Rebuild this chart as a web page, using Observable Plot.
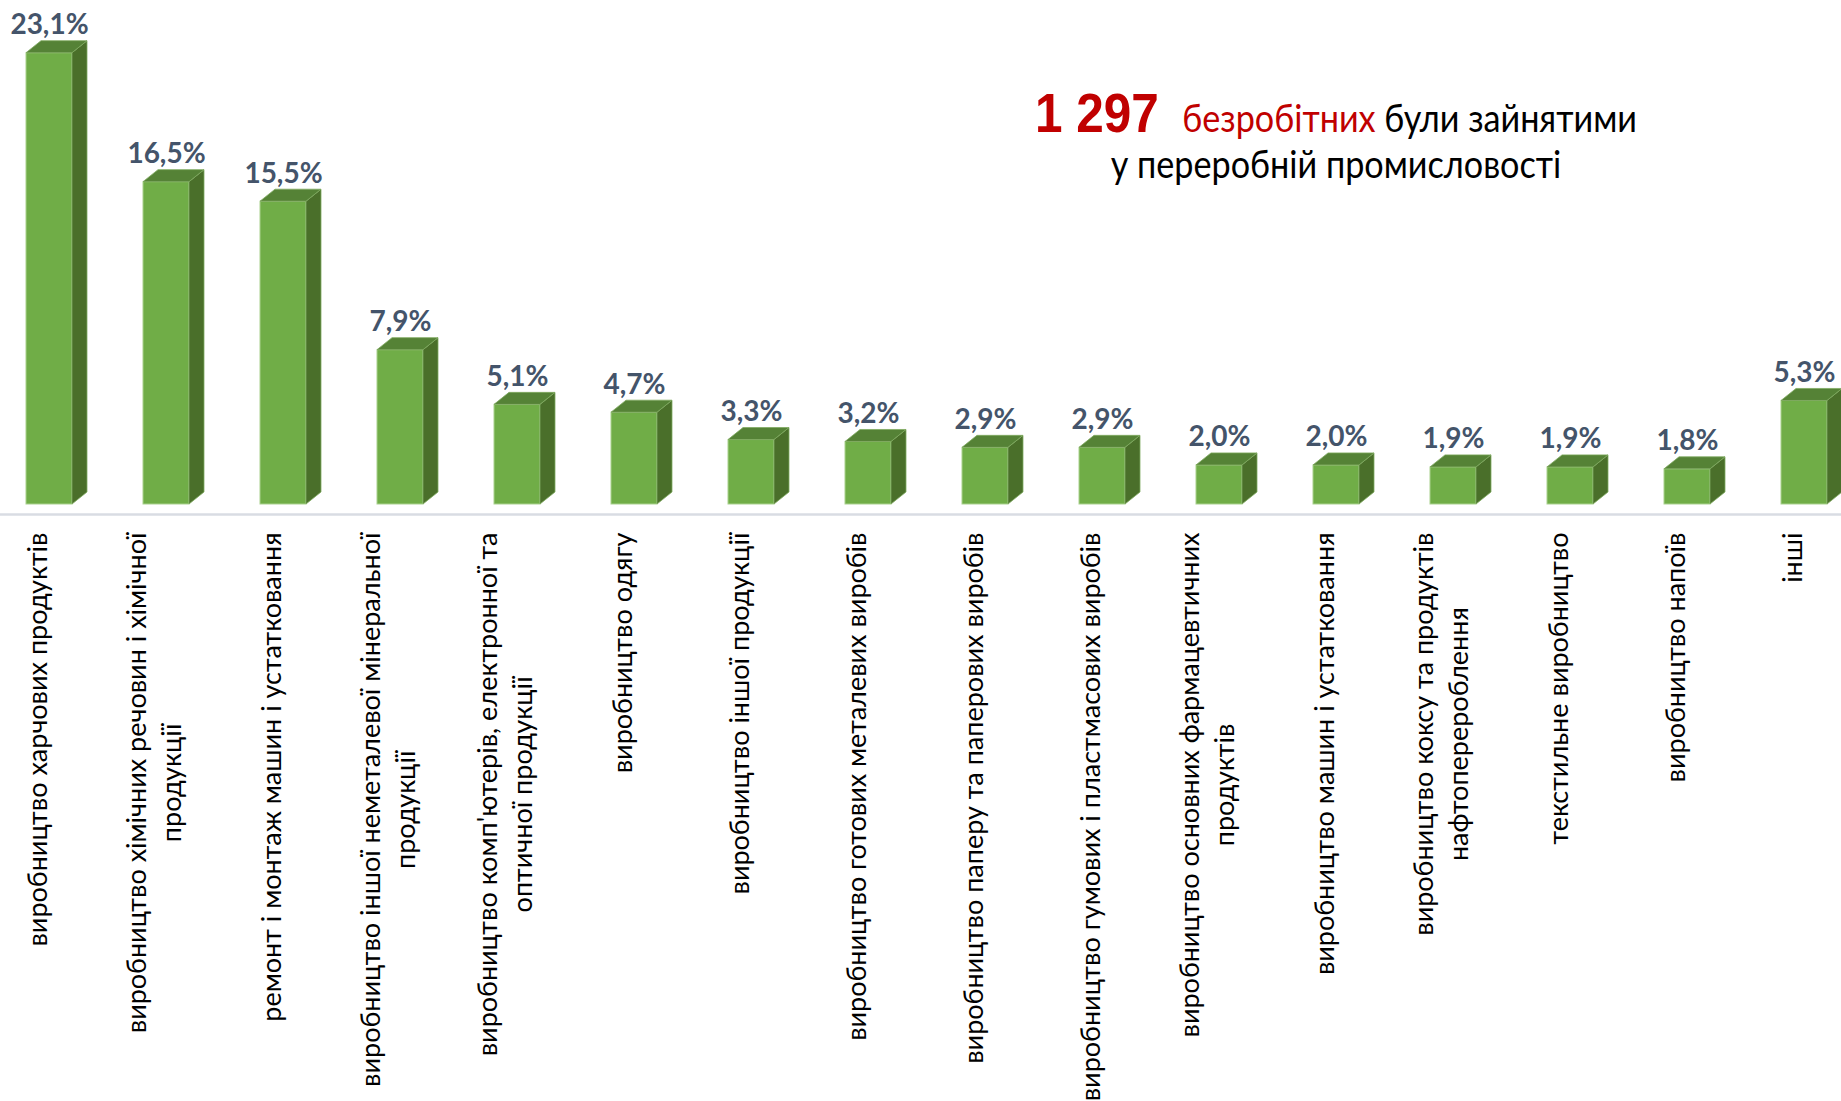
<!DOCTYPE html>
<html>
<head>
<meta charset="utf-8">
<script src="https://cdn.jsdelivr.net/npm/d3@7"></script>
<script src="https://cdn.jsdelivr.net/npm/@observablehq/plot@0.6"></script>
<style>
  html, body { margin: 0; padding: 0; background: #fff; overflow: hidden; }
  #chart svg { display: block; }
</style>
</head>
<body>
<div id="chart"></div>
<script>
// ---- data ----
const categories = [
  "виробництво харчових продуктів",
  "виробництво хімічних речовин і хімічної\nпродукції",
  "ремонт і монтаж машин і устатковання",
  "виробництво іншої неметалевої мінеральної\nпродукції",
  "виробництво комп'ютерів, електронної та\nоптичної продукції",
  "виробництво одягу",
  "виробництво іншої продукції",
  "виробництво готових металевих виробів",
  "виробництво паперу та паперових виробів",
  "виробництво гумових і пластмасових виробів",
  "виробництво основних фармацевтичних\nпродуктів",
  "виробництво машин і устатковання",
  "виробництво коксу та продуктів\nнафтоперероблення",
  "текстильне виробництво",
  "виробництво напоїв",
  "інші"
];
const shares = [23.1, 16.5, 15.5, 7.9, 5.1, 4.7, 3.3, 3.2, 2.9, 2.9, 2.0, 2.0, 1.9, 1.9, 1.8, 5.3];
const totalCount = "1 297";
const noteRed = "безробітних";
const noteBlack = " були зайнятими";
const noteLine2 = "у переробній промисловості";

const rows = categories.map((c, i) => ({cat: c, value: shares[i]}));

// ---- style ----
const W = 1841, H = 1101;
const labelFont = "Lato, 'Open Sans', sans-serif";
const labelSize = 27;
const depthX = 15, depthY = 12;

// measure category label lines to top-align longest line, center the rest
const cv = document.createElement("canvas").getContext("2d");
cv.font = `${labelSize}px Lato`;
const maxLen = c => d3.max(c.split("\n"), s => cv.measureText(s).width);

const fmt = v => v.toFixed(1).replace(".", ",") + "%";

const labelMarks = rows.map(r => Plot.text([r], {
  x: "cat",
  y: () => 0,
  text: "cat",
  rotate: -90,
  textAnchor: "middle",
  lineAnchor: "middle",
  lineHeight: 1.3,
  fontSize: labelSize,
  fontFamily: labelFont,
  fill: "#000",
  dx: -14,
  dy: 28 + maxLen(r.cat) / 2
}));

const chart = Plot.plot({
  width: W,
  height: H,
  margin: 0,
  style: {background: "#fff"},
  x: {type: "band", domain: categories, range: [-11.6, 1863.6], paddingInner: 0.6075, paddingOuter: 0.30375, axis: null},
  y: {domain: [0, 23.1], range: [504, 52.7], axis: null},
  marks: [
    Plot.ruleY([0], {dy: 10, stroke: "#D9DCE3", strokeWidth: 2.5}),
    Plot.barY(rows, {x: "cat", y: "value", fill: "#70AD47", stroke: "#A9D18E", strokeWidth: 1}),
    Plot.text(rows, {
      x: "cat", y: "value", text: d => fmt(d.value),
      lineAnchor: "bottom", dy: -(depthY + 7),
      fontSize: 28, fontWeight: "bold", fontFamily: labelFont, fill: "#44546A"
    }),
    ...labelMarks
  ]
});

document.getElementById("chart").appendChild(chart);

// ---- 3D side/top faces from the plot's own scales ----
const sx = chart.scale("x"), sy = chart.scale("y");
const bw = sx.bandwidth;
const svg = d3.select(chart);
const faces = svg.insert("g", "g[aria-label='text']").attr("aria-label", "bar-3d-faces");
rows.forEach(r => {
  const x0 = sx.apply(r.cat), x1 = x0 + bw;
  const yb = sy.apply(0), yt = sy.apply(r.value);
  faces.append("polygon")
    .attr("points", [[x1, yb], [x1 + depthX, yb - depthY], [x1 + depthX, yt - depthY], [x1, yt]].join(" "))
    .attr("fill", "#4A6F2A").attr("stroke", "#7FA960").attr("stroke-width", 0.8);
  faces.append("polygon")
    .attr("points", [[x0, yt], [x0 + depthX, yt - depthY], [x1 + depthX, yt - depthY], [x1, yt]].join(" "))
    .attr("fill", "#558236").attr("stroke", "#7FA960").attr("stroke-width", 0.8);
});

// ---- annotation ----
const note = svg.append("g").attr("transform", "translate(1336,0) scale(0.9,1)");
const t1 = note.append("text").attr("x", 0).attr("y", 131.7).attr("text-anchor", "middle")
  .attr("font-family", labelFont).attr("font-size", 38);
t1.append("tspan").attr("font-family", "'Liberation Sans', Arial, sans-serif").attr("font-weight", "bold")
  .attr("font-size", 55).attr("fill", "#C00000").text(totalCount);
t1.append("tspan").attr("dx", 26).attr("fill", "#C00000").text(noteRed);
t1.append("tspan").attr("fill", "#000").text(noteBlack);
note.append("text").attr("x", 0).attr("y", 178).attr("text-anchor", "middle")
  .attr("font-family", labelFont).attr("font-size", 38).attr("fill", "#000").text(noteLine2);
</script>
</body>
</html>
